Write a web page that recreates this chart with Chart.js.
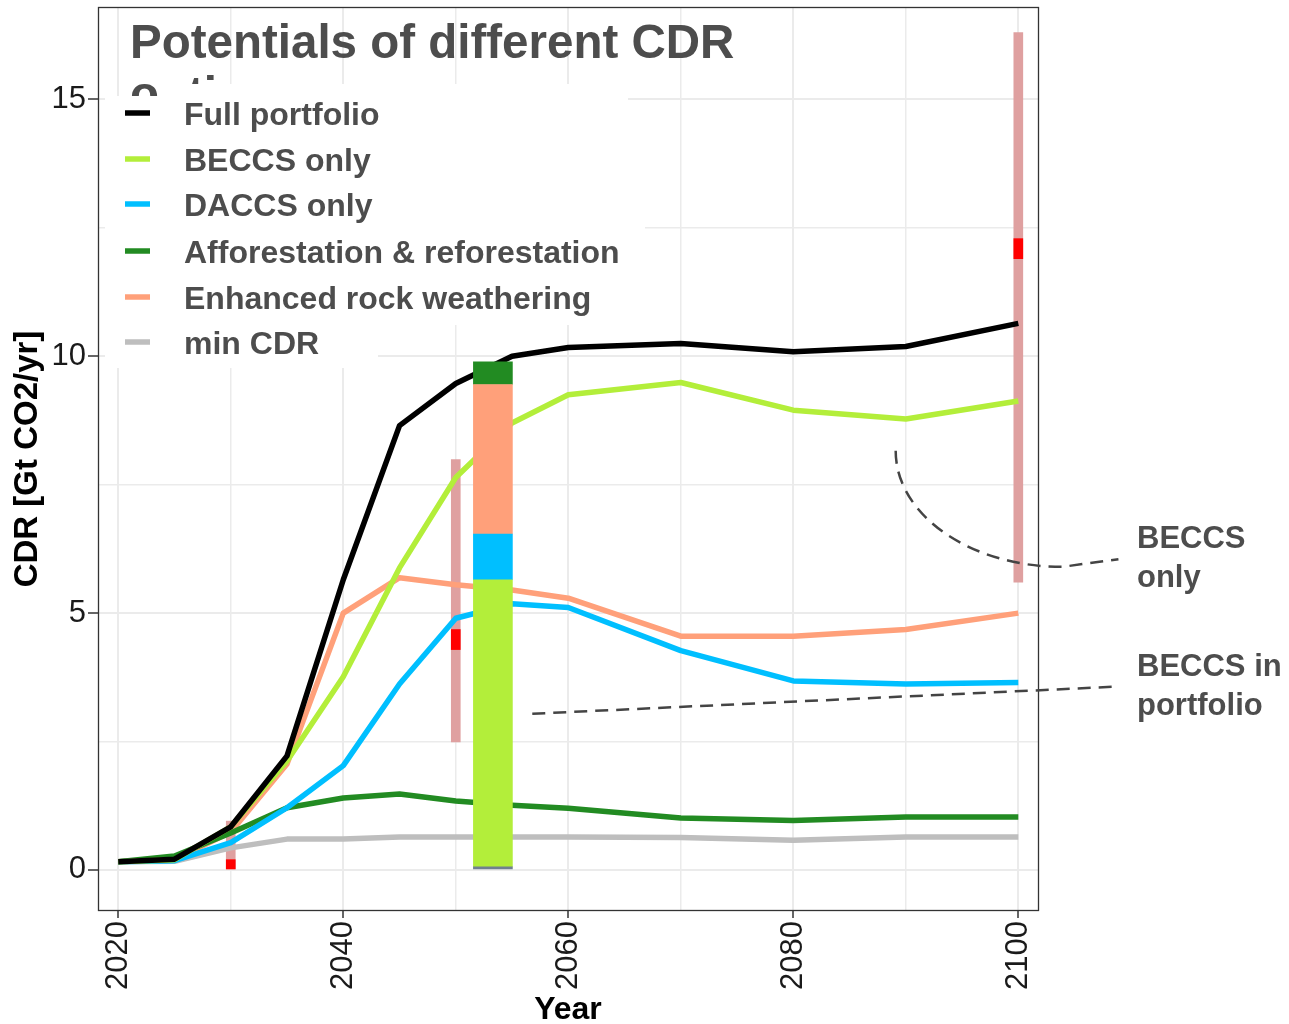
<!DOCTYPE html>
<html>
<head>
<meta charset="utf-8">
<script src="https://cdn.jsdelivr.net/npm/chart.js@4.4.1/dist/chart.umd.min.js"></script>
<style>
  html, body { margin: 0; padding: 0; background: #ffffff; }
  #wrap { width: 1289px; height: 1024px; position: relative; }
</style>
</head>
<body>
<div id="wrap"><canvas id="cdr" width="1289" height="1024"></canvas></div>
<script>
// ---- data (Gt CO2 / yr) ----
const years = [2020, 2025, 2030, 2035, 2040, 2045, 2050, 2055, 2060, 2070, 2080, 2090, 2100];
const fullPortfolio = [0.16, 0.21, 0.84, 2.22, 5.65, 8.65, 9.47, 10.0, 10.17, 10.25, 10.09, 10.19, 10.64];
const beccsOnly     = [0.16, 0.20, 0.84, 2.12, 3.76, 5.88, 7.64, 8.70, 9.25, 9.49, 8.95, 8.78, 9.13];
const daccsOnly     = [0.16, 0.18, 0.53, 1.21, 2.03, 3.62, 4.90, 5.18, 5.11, 4.27, 3.68, 3.62, 3.65];
const afforestation = [0.16, 0.27, 0.72, 1.21, 1.40, 1.48, 1.34, 1.26, 1.20, 1.01, 0.96, 1.03, 1.03];
const rockWeathering = [0.16, 0.20, 0.74, 2.06, 5.00, 5.69, 5.55, 5.45, 5.29, 4.55, 4.55, 4.68, 5.00];
const minCdr        = [0.16, 0.17, 0.43, 0.60, 0.60, 0.64, 0.64, 0.64, 0.64, 0.63, 0.58, 0.64, 0.64];

const seriesNames = ["Full portfolio", "BECCS only", "DACCS only",
  "Afforestation & reforestation", "Enhanced rock weathering", "min CDR"];

// portfolio mix bar around mid-century (segments from bottom to top)
const mixYear = 2053.3;
const mixNames = ["other", "BECCS", "DACCS", "Enhanced rock weathering", "Afforestation & reforestation"];
const mixValues = [0.06, 5.59, 0.89, 2.91, 0.44];

// BECCS potential ranges from literature and central estimates
const rangeYears = [2030, 2050, 2100];
const rangeLow   = [0.00, 2.49, 5.60];
const rangeHigh  = [0.95, 7.99, 16.30];
const markLow    = [0.00, 4.29, 11.90];
const markHigh   = [0.20, 4.68, 12.29];

// axes
const xGridYears = [2020, 2030, 2040, 2050, 2060, 2070, 2080, 2090, 2100];
const xTickLabels = [2020, 2040, 2060, 2080, 2100];
const yGridValues = [0, 2.5, 5, 7.5, 10, 12.5, 15];
const yTickLabels = [0, 5, 10, 15];

// ---- styling ----
const FONT = "'Liberation Sans', Arial, sans-serif";
const seriesColors = ["#000000", "#b3ee3a", "#00bfff", "#228b22", "#ffa07a", "#bebebe"];
const mixColors = ["#708090", "#b3ee3a", "#00bfff", "#ffa07a", "#228b22"];
const seriesData = [fullPortfolio, beccsOnly, daccsOnly, afforestation, rockWeathering, minCdr];

const lineSets = seriesData.map((arr, k) => ({
  type: 'line',
  label: seriesNames[k],
  data: years.map((x, i) => ({ x: x, y: arr[i] })),
  borderColor: seriesColors[k],
  backgroundColor: seriesColors[k],
  borderWidth: 5.5,
  pointRadius: 0,
  tension: 0,
  fill: false,
  borderJoinStyle: 'round',
  order: 5
}));

// floating segments for the mix bar, stacked from the segment values
let acc = 0;
const mixSets = mixValues.map((v, k) => {
  const lo = acc; acc += v;
  return {
    type: 'bar',
    label: mixNames[k],
    data: [{ x: mixYear, y: [lo, acc] }],
    backgroundColor: mixColors[k],
    borderWidth: 0,
    borderSkipped: false,
    barThickness: 39,
    grouped: false,
    order: 1
  };
});

const rangeSet = {
  type: 'bar',
  label: 'range',
  data: rangeYears.map((x, i) => ({ x: x, y: [rangeLow[i], rangeHigh[i]] })),
  backgroundColor: '#dfa0a0',
  borderWidth: 0,
  borderSkipped: false,
  barThickness: 9,
  grouped: false,
  order: 10
};
const markSet = {
  type: 'bar',
  label: 'estimate',
  data: rangeYears.map((x, i) => ({ x: x, y: [markLow[i], markHigh[i]] })),
  backgroundColor: '#ff0000',
  borderWidth: 0,
  borderSkipped: false,
  barThickness: 9,
  grouped: false,
  order: 9
};

// title, legend panel, frame and annotations
const decor = {
  id: 'decor',
  beforeDatasetsDraw(chart) {
    const ctx = chart.ctx;
    ctx.save();
    // title
    ctx.fillStyle = '#4d4d4d';
    ctx.font = "bold 47.5px " + FONT;
    ctx.textBaseline = 'alphabetic';
    ctx.textAlign = 'left';
    ctx.fillText("Potentials of different CDR", 130, 58);
    ctx.fillText("options", 130, 110);
    // legend panel
    ctx.fillStyle = '#ffffff';
    ctx.fillRect(105, 96, 56, 70);
    ctx.fillRect(160, 84, 468, 80);
    ctx.fillRect(105, 160, 540, 165);
    ctx.fillRect(105, 324, 273, 44);
    // legend entries
    const rowY = [113, 159, 204, 251, 297, 342];
    ctx.font = "bold 32px " + FONT;
    seriesNames.forEach((name, k) => {
      ctx.strokeStyle = seriesColors[k];
      ctx.lineWidth = 5.5;
      ctx.beginPath();
      ctx.moveTo(125, rowY[k]);
      ctx.lineTo(150, rowY[k]);
      ctx.stroke();
      ctx.fillStyle = '#4d4d4d';
      ctx.fillText(name, 184, rowY[k] + 11.5);
    });
    ctx.restore();
  },
  afterDraw(chart) {
    const ctx = chart.ctx;
    const a = chart.chartArea;
    const xs = chart.scales.x, ys = chart.scales.y;
    const px = v => xs.getPixelForValue(v), py = v => ys.getPixelForValue(v);
    ctx.save();
    // panel frame
    ctx.strokeStyle = '#333333';
    ctx.lineWidth = 1.3;
    ctx.strokeRect(a.left + 0.5, a.top - 0.5, a.right - a.left, a.bottom - a.top + 1);

    // dashed leader lines
    ctx.strokeStyle = '#444444';
    ctx.lineWidth = 2.5;
    ctx.setLineDash([13, 8]);
    // to "BECCS in portfolio"
    ctx.beginPath();
    ctx.moveTo(px(2056.8), py(3.04));
    ctx.lineTo(px(2108.9), py(3.57));
    ctx.stroke();
    // curved leader to "BECCS only"
    const sx = px(2089.1), sy = py(8.16);
    const ex = px(2103.9), ey = py(5.90);
    ctx.beginPath();
    ctx.moveTo(sx, sy);
    ctx.bezierCurveTo(sx, sy + 0.552 * (ey - sy), ex - 0.552 * (ex - sx), ey, ex, ey);
    ctx.lineTo(px(2108.9), py(6.05));
    ctx.stroke();
    ctx.setLineDash([]);

    // annotation labels
    ctx.fillStyle = '#4d4d4d';
    ctx.font = "bold 31px " + FONT;
    ctx.textAlign = 'left';
    ctx.textBaseline = 'alphabetic';
    ctx.fillText("BECCS", 1137, 548);
    ctx.fillText("only", 1137, 587);
    ctx.fillText("BECCS in", 1137, 676);
    ctx.fillText("portfolio", 1137, 715);
    ctx.restore();
  }
};

const isMajorX = v => xTickLabels.includes(v);
const isMajorY = v => yTickLabels.includes(v);

new Chart(document.getElementById('cdr'), {
  type: 'line',
  data: { datasets: [...lineSets, ...mixSets, rangeSet, markSet] },
  options: {
    responsive: false,
    animation: false,
    devicePixelRatio: 1,
    layout: { padding: { left: 0, top: 8, right: 251, bottom: 0 } },
    plugins: { legend: { display: false }, tooltip: { enabled: false }, title: { display: false } },
    scales: {
      x: {
        type: 'linear',
        min: 2018.2,
        max: 2101.75,
        offset: false,
        afterBuildTicks: s => { s.ticks = xGridYears.map(v => ({ value: v })); },
        afterFit: s => { s.height = 114; s.paddingLeft = 0; s.paddingRight = 0; },
        border: { display: false },
        grid: {
          offset: false,
          color: '#ebebeb',
          lineWidth: c => (c.tick && isMajorX(c.tick.value)) ? 2 : 1.5,
          tickLength: 8,
          tickWidth: 1.5,
          tickColor: c => (c.tick && isMajorX(c.tick.value)) ? '#333333' : 'rgba(0,0,0,0)'
        },
        ticks: {
          autoSkip: false,
          minRotation: 90,
          maxRotation: 90,
          padding: 3,
          color: '#1a1a1a',
          font: { family: FONT, size: 31 },
          callback: v => isMajorX(v) ? String(v) : ''
        },
        title: {
          display: true,
          text: 'Year',
          color: '#000000',
          font: { family: FONT, size: 32, weight: 'bold', lineHeight: 0.875 },
          padding: 0
        }
      },
      y: {
        type: 'linear',
        min: -0.78,
        max: 16.78,
        afterBuildTicks: s => { s.ticks = yGridValues.map(v => ({ value: v })); },
        afterFit: s => { s.width = 98; s.paddingTop = 0; s.paddingBottom = 0; },
        border: { display: false },
        grid: {
          color: '#ebebeb',
          lineWidth: c => (c.tick && isMajorY(c.tick.value)) ? 2 : 1.5,
          tickLength: 10,
          tickWidth: 1.5,
          tickColor: c => (c.tick && isMajorY(c.tick.value)) ? '#333333' : 'rgba(0,0,0,0)'
        },
        ticks: {
          autoSkip: false,
          padding: 2,
          color: '#1a1a1a',
          font: { family: FONT, size: 31 },
          callback: v => isMajorY(v) ? String(v) : ''
        },
        title: {
          display: true,
          text: 'CDR [Gt CO2/yr]',
          color: '#000000',
          font: { family: FONT, size: 33, weight: 'bold', lineHeight: 1.2 },
          padding: { top: 8, bottom: 0 }
        }
      }
    }
  },
  plugins: [decor]
});
</script>
</body>
</html>
